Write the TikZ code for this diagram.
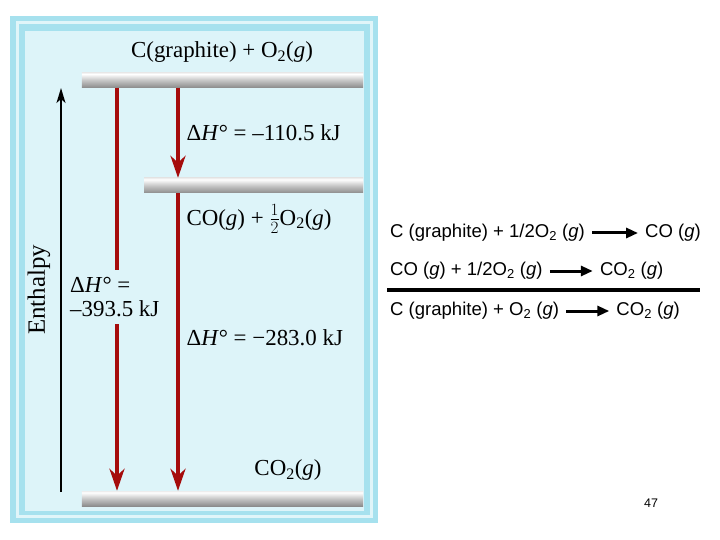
\documentclass[tikz,border=0pt]{standalone}
\usepackage{fontspec}
\setmainfont{Liberation Serif}
\newfontfamily\arialfont{Liberation Sans}
\usepackage{tikz}
\usetikzlibrary{arrows.meta,positioning}
\definecolor{frameblue}{HTML}{A6E1EE}
\definecolor{panelblue}{HTML}{DDF4F9}
\definecolor{darkred}{HTML}{A50C0C}
\pgfdeclareverticalshading{barshade}{100bp}{color(0bp)=(black!58); color(25bp)=(black!45); color(50bp)=(black!22); color(70bp)=(white); color(88bp)=(black!25); color(100bp)=(black!45)}
\newcommand{\dH}{Δ\textit{H}°}

\begin{document}
\begin{tikzpicture}[
    x=1bp, y=-1bp,
    font=\fontsize{23}{25}\selectfont,
      level/.style={rectangle, inner sep=0pt, minimum height=15bp, shading=barshade},
      drop/.style={draw=darkred, line width=4.5bp, -{Stealth[length=22bp, width=15bp, inset=7bp]}},
      rise/.style={line width=1.8bp, -{Stealth[length=15bp, width=9bp, inset=4bp]}},
      eq/.style={font=\arialfont\fontsize{18.6}{20}\selectfont, inner sep=0pt, anchor=west, text height=13bp, text depth=4bp},
      yields/.style={line width=3bp, -{Triangle[length=12bp, width=10bp]}, shorten <=7bp, shorten >=7bp}
    ]
      \useasboundingbox (0,0) rectangle (720,540);
      \fill[frameblue] (10,16) rectangle (378,523);
      \draw[white!65!frameblue, line width=3bp] (17,23) rectangle (371,516);
      \fill[panelblue] (25,31) rectangle (364,511);

      \node[level, minimum width=281bp] (lvlC) at (222.5,80) {};
      \node[level, minimum width=219bp] (lvlCO) at (253.5,185.5) {};
      \node[level, minimum width=281bp] (lvlCO2) at (222.5,498.5) {};

      \node (stateC) at (222,52) {C(graphite) + O\textsubscript{2}(\textit{g})};
      \node[anchor=west] (dhfirst) at (183,133) {\dH{} = –110.5 kJ};
      \node[anchor=west] (stateCO) at (183,219) {CO(\textit{g}) + $\frac{1}{2}$O\textsubscript{2}(\textit{g})};
      \node[anchor=west] (dhsecond) at (183,338) {\dH{} = −283.0 kJ};
      \node (stateCO2) at (288,470) {CO\textsubscript{2}(\textit{g})};
      \node[anchor=west, align=left, inner ysep=7bp, inner xsep=2bp] (dhtotal) at (68,297) {\dH{} =\\–393.5 kJ};
      \node[rotate=90, font=\fontsize{25}{27}\selectfont] (enthalpy) at (39,290) {Enthalpy};

      \coordinate (longx) at (117,0);
      \coordinate (shortx) at (178,0);
      \coordinate (hbase) at (61,492);
      \coordinate (htop) at (61,88);

      \draw[rise] (hbase) -- (htop);
      \draw[drop] (lvlC.south -| shortx) -- (lvlCO.north -| shortx);
      \draw[drop] (lvlCO.south -| shortx) -- (lvlCO2.north -| shortx);
      \draw[darkred, line width=4.5bp] (lvlC.south -| longx) -- (dhtotal.north -| longx);
      \draw[drop] (dhtotal.south -| longx) -- (lvlCO2.north -| longx);

      \node[eq] (reacA) at (390,233) {C (graphite) + 1/2O\textsubscript{2} (\textit{g})};
      \node[eq, right=60bp of reacA] (prodA) {CO (\textit{g})};
      \node[eq] (reacB) at (390,271) {CO (\textit{g}) + 1/2O\textsubscript{2} (\textit{g})};
      \node[eq, right=57bp of reacB] (prodB) {CO\textsubscript{2} (\textit{g})};
      \node[eq] (reacC) at (390,311) {C (graphite) + O\textsubscript{2} (\textit{g})};
      \node[eq, right=57bp of reacC] (prodC) {CO\textsubscript{2} (\textit{g})};
      \coordinate (ruleL) at (387,290);
      \coordinate (ruleR) at (700,290);

      \draw[yields] (reacA.east) -- (reacA.east -| prodA.west);
      \draw[yields] (reacB.east) -- (reacB.east -| prodB.west);
      \draw[yields] (reacC.east) -- (reacC.east -| prodC.west);
      \draw[line width=3.5bp] (ruleL) -- (ruleR);

      \node[font=\arialfont\fontsize{12.5}{14}\selectfont] (pagenum) at (651,503) {47};
    \end{tikzpicture}
\end{document}
